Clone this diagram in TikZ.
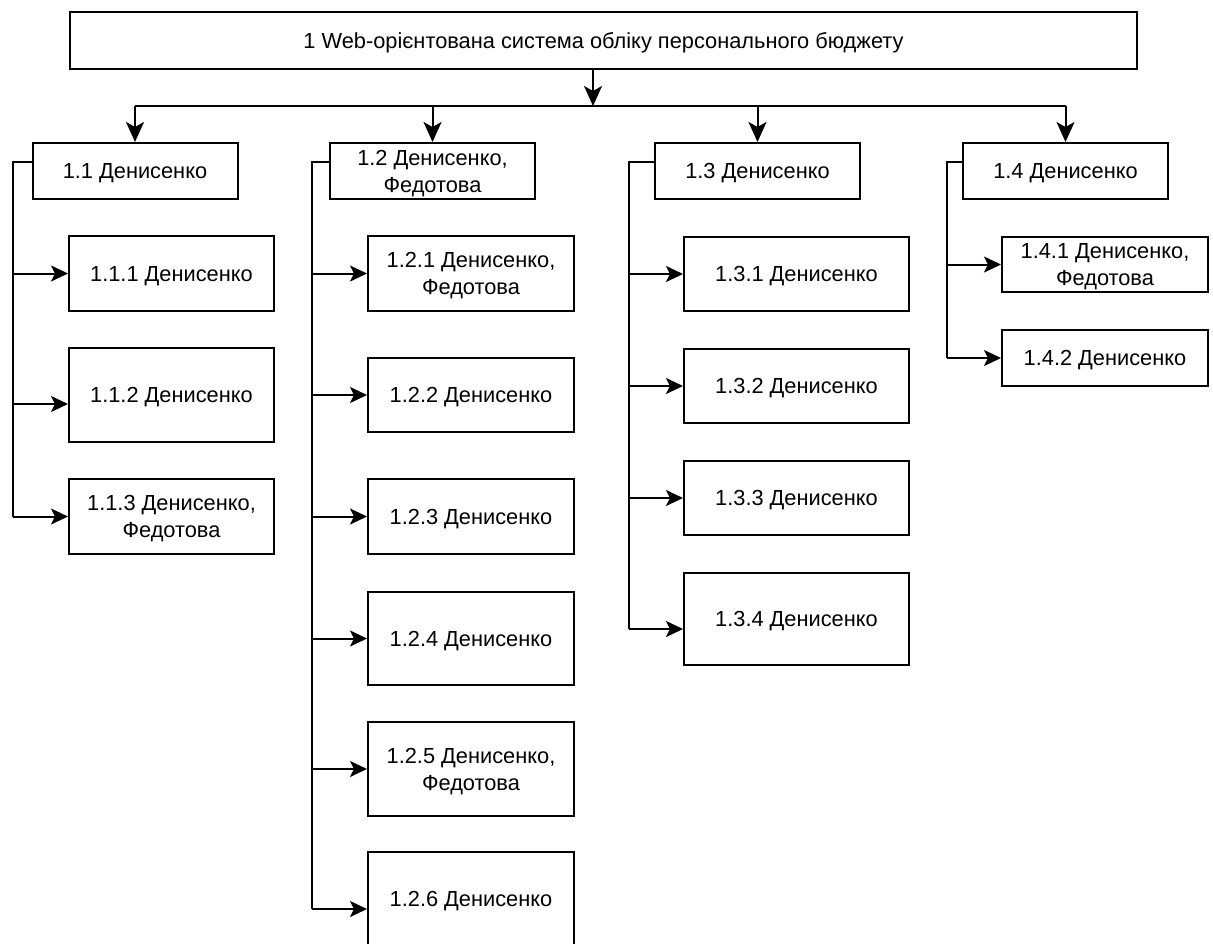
\documentclass[tikz,border=0pt]{standalone}
\usepackage{fontspec}
\setmainfont{Liberation Sans}
\usepackage{tikz}
\usetikzlibrary{arrows.meta,positioning}

\begin{document}
\begin{tikzpicture}[
  x=0.5pt, y=-0.5pt,
  box/.style={draw, rectangle, line width=1pt, align=center, inner sep=0pt,
              text depth=0pt, font=\fontsize{10.9}{13.5}\selectfont},
  lvlbox/.style={box, minimum width=102.5pt, minimum height=28pt},
  line/.style={line width=1pt},
  big/.style={-{Stealth[length=10pt, width=9pt, inset=2.5pt]}},
  >={Stealth[length=8.5pt, width=8pt, inset=2pt]}
]
  \useasboundingbox (0,0) rectangle (1213,943);

  % top
  \node[box, minimum width=533.5pt, minimum height=28.5pt] (root) at (603.5,40.5)
    {1 Web-орієнтована система обліку персонального бюджету};

  % level 1
  \node[lvlbox] (n11) at (135,171)    {1.1 Денисенко};
  \node[lvlbox] (n12) at (432.5,171)  {1.2 Денисенко,\\Федотова};
  \node[lvlbox] (n13) at (757.5,171)  {1.3 Денисенко};
  \node[lvlbox] (n14) at (1065.5,171) {1.4 Денисенко};

  % level 2, branch 1.1
  \node[box, minimum width=102.5pt, minimum height=37.5pt] (n111) at (171.5,273.5) {1.1.1 Денисенко};
  \node[box, minimum width=102.5pt, minimum height=47pt]   (n112) at (171.5,395)   {1.1.2 Денисенко};
  \node[box, minimum width=102.5pt, minimum height=37.5pt] (n113) at (171.5,516.5) {1.1.3 Денисенко,\\Федотова};

  % level 2, branch 1.2
  \node[box, minimum width=103pt, minimum height=37.5pt] (n121) at (471,273.5) {1.2.1 Денисенко,\\Федотова};
  \node[box, minimum width=103pt, minimum height=37pt]   (n122) at (471,395)   {1.2.2 Денисенко};
  \node[box, minimum width=103pt, minimum height=37.5pt] (n123) at (471,516.5) {1.2.3 Денисенко};
  \node[box, minimum width=103pt, minimum height=46.5pt] (n124) at (471,638.5) {1.2.4 Денисенко};
  \node[box, minimum width=103pt, minimum height=47pt]   (n125) at (471,769)   {1.2.5 Денисенко,\\Федотова};
  \node[box, minimum width=103pt, minimum height=46.5pt] (n126) at (471,898.5) {1.2.6 Денисенко};

  % level 2, branch 1.3
  \node[box, minimum width=112.5pt, minimum height=37pt] (n131) at (796.5,274) {1.3.1 Денисенко};
  \node[box, minimum width=112.5pt, minimum height=37pt] (n132) at (796.5,386) {1.3.2 Денисенко};
  \node[box, minimum width=112.5pt, minimum height=37pt] (n133) at (796.5,498) {1.3.3 Денисенко};
  \node[box, minimum width=112.5pt, minimum height=46pt] (n134) at (796.5,619) {1.3.4 Денисенко};

  % level 2, branch 1.4
  \node[box, minimum width=103pt, minimum height=27.5pt] (n141) at (1105,264.5) {1.4.1 Денисенко,\\Федотова};
  \node[box, minimum width=103pt, minimum height=28pt]   (n142) at (1105,358)   {1.4.2 Денисенко};

  % bus under the root
  \coordinate (bus) at (593,106);
  \draw[line, big] (root.south -| bus) -- (bus);
  \draw[line] (bus -| n11) -- (bus -| n14);
  \draw[line, big] (bus -| n11) -- (n11.north);
  \draw[line, big] (bus -| n12) -- (n12.north);
  \draw[line, big] (bus -| n13) -- (n13.north);
  \draw[line, big] (bus -| n14) -- (n14.north);

  % spines
  \coordinate (sp1) at (13,162);
  \coordinate (sp2) at (312,162);
  \coordinate (sp3) at (629,162);
  \coordinate (sp4) at (947,162);

  \draw[line] (n11.west |- sp1) -- (sp1) -- (sp1 |- n113.west);
  \draw[line, ->] (sp1 |- n111.west) -- (n111.west);
  \draw[line, ->] (sp1 |- n112.west) ++(0,9) -- ([yshift=-4.5pt]n112.west);
  \draw[line, ->] (sp1 |- n113.west) -- (n113.west);

  \draw[line] (n12.west |- sp2) -- (sp2) -- ([yshift=-5.25pt]sp2 |- n126.west);
  \draw[line, ->] (sp2 |- n121.west) -- (n121.west);
  \draw[line, ->] (sp2 |- n122.west) -- (n122.west);
  \draw[line, ->] (sp2 |- n123.west) -- (n123.west);
  \draw[line, ->] (sp2 |- n124.west) -- (n124.west);
  \draw[line, ->] (sp2 |- n125.west) -- (n125.west);
  \draw[line, ->] ([yshift=-5.25pt]sp2 |- n126.west) -- ([yshift=-5.25pt]n126.west);

  \draw[line] (n13.west |- sp3) -- (sp3) -- ([yshift=-5pt]sp3 |- n134.west);
  \draw[line, ->] (sp3 |- n131.west) -- (n131.west);
  \draw[line, ->] (sp3 |- n132.west) -- (n132.west);
  \draw[line, ->] (sp3 |- n133.west) -- (n133.west);
  \draw[line, ->] ([yshift=-5pt]sp3 |- n134.west) -- ([yshift=-5pt]n134.west);

  \draw[line] (n14.west |- sp4) -- (sp4) -- (sp4 |- n142.west);
  \draw[line, ->] (sp4 |- n141.west) -- (n141.west);
  \draw[line, ->] (sp4 |- n142.west) -- (n142.west);
\end{tikzpicture}
\end{document}
